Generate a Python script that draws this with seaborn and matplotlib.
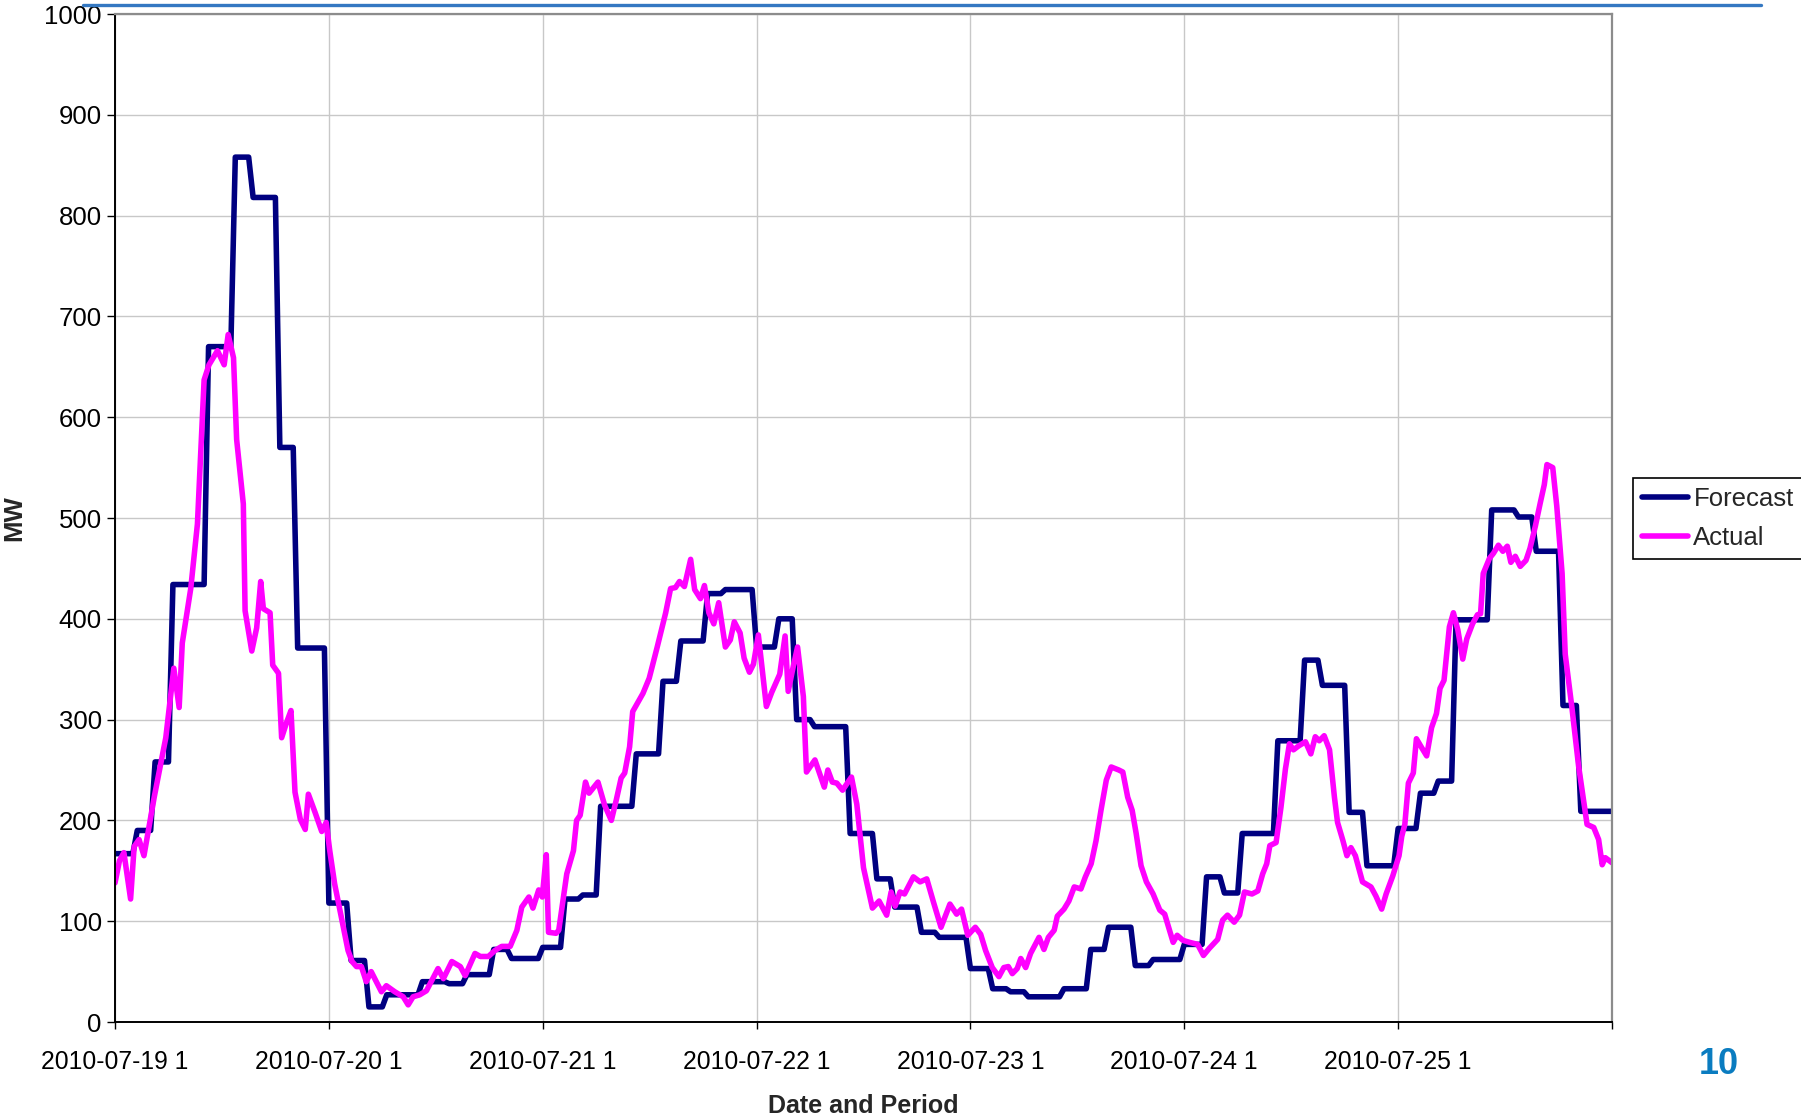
import numpy as np
import pandas as pd
import seaborn as sns
import matplotlib.pyplot as plt
from matplotlib.lines import Line2D

# ---- data (MW, half-hour periods, 48 per day) ----
day_labels = ["2010-07-19 1", "2010-07-20 1", "2010-07-21 1", "2010-07-22 1",
              "2010-07-23 1", "2010-07-24 1", "2010-07-25 1"]

# forecast is issued in 9 blocks per day, block lengths in periods
block_periods = [5, 4, 4, 8, 6, 4, 6, 4, 7]
forecast_day1 = [167, 190, 258, 434, 670, 858, 818, 570, 371]
forecast_day2 = [118, 61, 15, 27, 40, 38, 47, 72, 63]
forecast_day3 = [74, 122, 126, 214, 266, 338, 378, 425, 429]
forecast_day4 = [372, 400, 300, 293, 187, 142, 114, 89, 84]
forecast_day5 = [53, 33, 30, 25, 33, 72, 94, 56, 62]
forecast_day6 = [77, 144, 128, 187, 279, 359, 334, 208, 155]
forecast_day7 = [192, 227, 239, 399, 508, 501, 467, 314, 209]

# actual: vertices of the measured curve (period, MW)
actual_period = [
    0, 1, 2, 3.5, 4.3, 5.4, 6.5, 8.8, 11.4, 13.2, 14.4, 15.1, 17, 18.5, 20, 21.1, 23, 24.5,
    25.4, 26.6, 27.3, 28.8, 29.2, 30.7, 31.8, 32.7, 33.3, 34.8, 35.4, 36.7, 37.4, 38.5, 39.5,
    40.4, 41.6, 42.7, 43.4, 44.9, 46.4, 47.4, 48.2,
    49.3, 50.8, 52.3, 53.2, 54.2, 55.3, 56.4, 57.5, 59.8, 60.9, 62.8, 64.7, 65.8, 66.9, 68.4,
    69.9, 72.5, 73.7, 75.6, 77.5, 78.6, 80.8, 82, 83.8, 85.3, 86.8, 88.7, 90.2, 91.3, 92.9,
    93.8, 95.1, 95.9, 96.8,
    97.3, 99, 99.6, 101.4, 102.9, 103.6, 104.4, 105.6, 106.4, 108.4, 109.9, 111.4, 112.5,
    113.6, 114.4, 115.5, 116.2, 118.5, 119.9, 121.7, 123.6, 124.7, 125.8, 126.7, 127.8, 129.2,
    130.1, 131.4, 132.3, 133.3, 134.4, 135.5, 137, 138.1, 139, 140.3, 141.2, 142.4, 143.3, 144.4,
    146.2, 147.4, 149.2, 150.4, 151.1, 152.2, 153.2, 154.5, 155.2, 157.1, 159.2, 160, 161, 162,
    163.3, 165.3, 166.5, 168, 170, 171.5, 173.2, 174.2, 175.1, 176.2, 177.2, 179.2, 180.7,
    182.2, 183.7, 185.4, 187.4, 188.9, 190, 191.4,
    193.1, 194.3, 195.4, 196.9, 198.4, 199.5, 200.5, 201.4, 202.5, 203.3, 204.4, 205.5, 207.4,
    208.5, 209.5, 210.8, 211.5, 213, 214.1, 215.3, 216.8, 217.8, 219.1, 220.2, 221.3, 222.5,
    223.6, 225.3, 226.2, 227.3, 228.3, 229.2, 230.3, 231.5, 233, 234.5, 235.6, 237.5, 238.4, 239.7,
    241.2, 243, 244.3, 245.6, 247.5, 248.6, 249.7, 251.2, 252.4, 253.5, 255.2, 256.5, 257.6,
    258.5, 259.2, 260.6, 261.7, 262.7, 263.6, 264.5, 265.7, 267.2, 268.4, 269.4, 270.3, 271.4,
    272.6, 273.7, 274.4, 275.6, 276.5, 277.4, 278.4, 280, 281.9, 283, 284.3, 285.3, 286.8,
    288.2, 288.8, 289.5, 290.3, 291.4, 292.1, 293.3, 294.4, 295.5, 296.6, 297.4, 298.3, 299.5,
    300.4, 301.4, 302.5, 303.4, 304.7, 305.8, 306.5, 307.1, 308.5, 309.4, 310.5, 311.5, 312.5,
    313.3, 314.3, 315.4, 316.7, 317.6, 318.8, 319.9, 320.8, 321.4, 322.7, 323.6, 324.8, 325.5,
    327, 328.5, 330.4, 331.9, 333, 333.8, 334.5, 336,
]
actual_mw = [
    138, 160, 168, 122, 174, 181, 165, 223, 282, 351, 312, 376, 430, 494, 637, 652, 666, 652,
    682, 659, 578, 514, 408, 368, 391, 437, 410, 406, 354, 346, 282, 297, 309,
    228, 201, 191, 226, 208, 189, 198, 170,
    137, 104, 71, 60, 55, 55, 40, 50, 30, 36, 30, 25, 17, 25, 27,
    31, 53, 43, 60, 55, 46, 68, 65, 65, 71, 75, 75, 91, 114, 124,
    113, 131, 124, 166,
    89, 88, 91, 147, 170, 200, 205, 238, 227, 238, 215, 200, 220,
    242, 247, 273, 308, 326, 341, 372, 406, 430, 431, 437, 432, 459,
    429, 420, 433, 406, 395, 416, 372, 379, 397, 386, 361, 347, 355, 384,
    313, 327, 345, 383, 328, 352, 372, 323, 248, 260, 233, 250, 238, 237,
    230, 243, 216, 153, 113, 120, 106, 129, 115, 129, 127, 144, 139,
    142, 119, 94, 117, 107, 112, 86,
    94, 87, 71, 54, 45, 54, 55, 48, 53, 63, 54, 68, 84,
    72, 84, 91, 105, 112, 120, 134, 132, 144, 157, 180, 210, 240,
    253, 250, 248, 223, 210, 187, 155, 139, 127, 111, 107, 79, 86, 81,
    79, 77, 66, 73, 82, 101, 106, 99, 106, 129, 127, 130, 147,
    157, 175, 178, 213, 251, 276, 270, 274, 278, 266, 283, 279, 284,
    270, 223, 198, 180, 165, 173, 165, 139, 134, 125, 112, 127, 145,
    165, 184, 196, 237, 247, 281, 272, 264, 292, 306, 331, 339, 392,
    406, 389, 360, 380, 395, 404, 405, 445, 460, 465, 473, 467, 472,
    456, 462, 452, 458, 470, 492, 515, 533, 553, 550, 512, 445, 365,
    312, 254, 196, 193, 181, 156, 163, 158,
]

# ---- build frames ----
forecast_levels = (forecast_day1 + forecast_day2 + forecast_day3 + forecast_day4
                   + forecast_day5 + forecast_day6 + forecast_day7)
forecast_mw = np.repeat(forecast_levels, block_periods * 7)
forecast_mw = np.append(forecast_mw, forecast_mw[-1])
forecast_df = pd.DataFrame({"Period": np.arange(len(forecast_mw)), "MW": forecast_mw})
actual_df = pd.DataFrame({"Period": actual_period, "MW": actual_mw})

# ---- style ----
sns.set_style("white")
plt.rcParams["font.family"] = ["Liberation Sans", "DejaVu Sans"]
FS = 18.5

fig = plt.figure(figsize=(18.01, 11.16), dpi=100)
ax = fig.add_axes([115 / 1801, 94 / 1116, 1497 / 1801, 1008 / 1116])

line_kw = dict(estimator=None, sort=False, solid_joinstyle="round", solid_capstyle="round")
sns.lineplot(data=forecast_df, x="Period", y="MW", ax=ax, color="#000080",
             linewidth=4.0, label="Forecast", **line_kw)
sns.lineplot(data=actual_df, x="Period", y="MW", ax=ax, color="#FF00FF",
             linewidth=4.0, label="Actual", **line_kw)

ax.set_xlim(0, 336)
ax.set_ylim(0, 1000)
ax.set_yticks(range(0, 1001, 100))
ax.set_xticks(range(0, 337, 48))
ax.set_xticklabels(day_labels + [""])
ax.grid(True, color="#c8c8c8", linewidth=1)
ax.set_axisbelow(True)

for side in ["left", "bottom"]:
    ax.spines[side].set_color("black")
    ax.spines[side].set_linewidth(1.4)
for side in ["top", "right"]:
    ax.spines[side].set_color("#8c8c8c")
    ax.spines[side].set_linewidth(1.6)

ax.tick_params(axis="y", direction="out", length=6, width=1, pad=3.5,
               labelsize=FS, left=True, colors="black")
ax.tick_params(axis="x", direction="out", length=5, width=1, pad=15.5,
               labelsize=17.8, bottom=True, colors="black")

ax.set_xlabel("Date and Period", fontsize=18, fontweight="bold")
ax.set_ylabel("MW", fontsize=FS, fontweight="bold")
ax.xaxis.set_label_coords(0.5, -0.0715)
ax.yaxis.set_label_coords(-0.059, 0.5)

ax.legend(loc="upper left", bbox_to_anchor=(1633 / 1801, 1 - 478 / 1116),
          bbox_transform=fig.transFigure, fontsize=FS, frameon=True, fancybox=False,
          edgecolor="black", framealpha=1, handlelength=1.8, handletextpad=0.2,
          borderpad=0.35, labelspacing=0.6, borderaxespad=0)
ax.get_legend().get_frame().set_linewidth(1.2)

# slide decorations
fig.add_artist(Line2D([83 / 1801, 1761 / 1801], [1 - 4.7 / 1116] * 2,
                      color="#3478C2", linewidth=2.4))
fig.text(1719 / 1801, 1 - 1065 / 1116, "10", ha="center", va="center",
         fontsize=26, fontweight="bold", color="#0A7CC0")

fig.savefig("out.png", dpi=100)
